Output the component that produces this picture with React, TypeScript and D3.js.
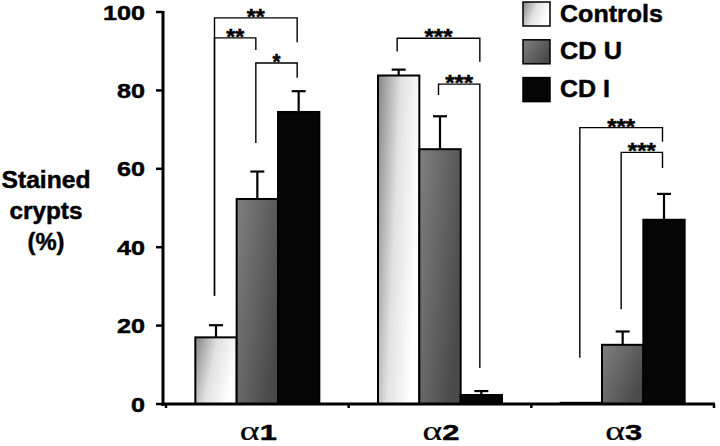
import React from "react";
import * as d3 from "d3";

const categories = ["α1", "α2", "α3"];
const seriesNames = ["Controls", "CD U", "CD I"];
const controlsMean = [17, 83.8, 0.3];
const controlsErr = [3.1, 1.5, 0];
const cdUMean = [52.3, 65, 15.1];
const cdUErr = [7, 8.4, 3.4];
const cdIMean = [74.5, 2.3, 47];
const cdIErr = [5.3, 1.0, 6.6];
const yTicks = [0, 20, 40, 60, 80, 100];
const yTitleLines = ["Stained", "crypts", "(%)"];

// significance brackets: category index, series a, series b, top value, left leg end, right leg end, label
const brackets = [
  { cat: 0, a: 0, b: 2, top: 98.5, leftEnd: 27.6, rightEnd: 92.3, label: "**" },
  { cat: 0, a: 0, b: 1, top: 93.4, leftEnd: 27.6, rightEnd: 90.3, label: "**" },
  { cat: 0, a: 1, b: 2, top: 87, leftEnd: 66.6, rightEnd: 83.2, label: "*" },
  { cat: 1, a: 0, b: 2, top: 93.3, leftEnd: 89.9, rightEnd: 87.3, label: "***" },
  { cat: 1, a: 1, b: 2, top: 81.6, leftEnd: 78.8, rightEnd: 9.2, label: "***" },
  { cat: 2, a: 0, b: 2, top: 70.5, leftEnd: 11.8, rightEnd: 66.9, label: "***" },
  { cat: 2, a: 1, b: 2, top: 64.2, leftEnd: 24.2, rightEnd: 60.2, label: "***" },
];

const W = 720;
const H = 446;
const FONT = "'Liberation Sans', Arial, Helvetica, sans-serif";

function SText(props: any) {
  const { len, children, ...rest } = props;
  return (
    <text
      fontFamily={FONT}
      fontWeight="bold"
      stroke="#000"
      strokeWidth={0.45}
      textLength={len}
      lengthAdjust={len ? "spacingAndGlyphs" : undefined}
      {...rest}
    >
      {children}
    </text>
  );
}

const legendLen: Record<string, number> = { Controls: 103, "CD U": 62, "CD I": 50 };
const starLen: Record<string, number> = { "*": 8, "**": 18, "***": 28 };
const titleLen = [89, 73, 37];

export default function App() {
  const y = d3.scaleLinear().domain([0, 100]).range([404, 12]);
  const x = d3.scaleBand<string>().domain(categories).range([166, 714]).paddingInner(0).paddingOuter(0);
  const bw = x.bandwidth();
  const groupW = 124;
  const xs = d3
    .scaleBand<string>()
    .domain(seriesNames)
    .range([(bw - groupW) / 2, (bw + groupW) / 2])
    .padding(0);
  const barW = xs.bandwidth();

  const means = [controlsMean, cdUMean, cdIMean];
  const errs = [controlsErr, cdUErr, cdIErr];
  const fills = ["url(#gradCtrl)", "url(#gradCDU)", "#050505"];

  const cx = (ci: number, si: number) => (x(categories[ci]) as number) + (xs(seriesNames[si]) as number) + barW / 2;

  return (
    <svg width={W} height={H} style={{ position: "absolute", left: 0, top: 0, background: "#fff" }}>
      <defs>
        <linearGradient id="gradCtrl" x1="0" y1="0" x2="1" y2="0.35">
          <stop offset="0" stopColor="#858585" />
          <stop offset="0.5" stopColor="#e2e2e2" />
          <stop offset="1" stopColor="#ffffff" />
        </linearGradient>
        <linearGradient id="gradCDU" x1="0" y1="0" x2="1" y2="0.6">
          <stop offset="0" stopColor="#808080" />
          <stop offset="1" stopColor="#4a4a4a" />
        </linearGradient>
      </defs>

      {/* bars */}
      {categories.map((c, ci) =>
        seriesNames.map((s, si) => {
          const v = means[si][ci];
          const x0 = (x(c) as number) + (xs(s) as number);
          return (
            <rect
              key={c + s}
              x={x0}
              y={y(v)}
              width={barW}
              height={y(0) - y(v)}
              fill={fills[si]}
              stroke="#000"
              strokeWidth={2}
            />
          );
        })
      )}

      {/* error bars */}
      {categories.map((c, ci) =>
        seriesNames.map((s, si) => {
          const v = means[si][ci];
          const e = errs[si][ci];
          if (e <= 0) return null;
          const xc = cx(ci, si);
          return (
            <g key={"e" + c + s} stroke="#000" strokeWidth={2.2}>
              <line x1={xc} x2={xc} y1={y(v)} y2={y(v + e)} />
              <line x1={xc - 7} x2={xc + 7} y1={y(v + e)} y2={y(v + e)} />
            </g>
          );
        })
      )}

      {/* brackets */}
      {brackets.map((b, i) => {
        const xa = cx(b.cat, b.a) - 1.5;
        const xb = cx(b.cat, b.b) - 1.5;
        const yt = y(b.top);
        return (
          <g key={"b" + i}>
            <path
              d={`M${xa},${y(b.leftEnd)}V${yt}H${xb}V${y(b.rightEnd)}`}
              fill="none"
              stroke="#000"
              strokeWidth={1.4}
            />
            <SText x={(xa + xb) / 2} y={yt + 6} textAnchor="middle" fontSize={22} len={starLen[b.label]}>
              {b.label}
            </SText>
          </g>
        );
      })}

      {/* y axis */}
      <line x1={163} x2={163} y1={y(100) - 1} y2={y(0) + 2} stroke="#000" strokeWidth={3} />
      {yTicks.map((t) => (
        <g key={"t" + t}>
          <line x1={156} x2={163} y1={y(t)} y2={y(t)} stroke="#000" strokeWidth={2.5} />
          <SText x={145} y={y(t) + 7.5} textAnchor="end" fontSize={21} len={String(t).length * 14}>
            {t}
          </SText>
        </g>
      ))}

      {/* x axis */}
      <line x1={161.5} x2={715} y1={y(0)} y2={y(0)} stroke="#000" strokeWidth={3} />
      {[...categories.map((c) => x(c) as number), 714].map((bx, i) => (
        <line key={"xt" + i} x1={bx} x2={bx} y1={y(0)} y2={y(0) + 4} stroke="#000" strokeWidth={2.5} />
      ))}
      {categories.map((c) => (
        <SText key={"xl" + c} x={(x(c) as number) + bw / 2 + 1} y={440} textAnchor="middle" fontSize={22} len={37}>
          <tspan fontFamily="'Liberation Serif', 'DejaVu Serif', serif" fontWeight="normal" strokeWidth={0.2} fontSize={27}>
            {c.charAt(0)}
          </tspan>
          <tspan>{c.slice(1)}</tspan>
        </SText>
      ))}

      {/* y title */}
      {yTitleLines.map((t, i) => (
        <SText key={"yt" + i} x={46} y={188 + i * 31} textAnchor="middle" fontSize={23} len={titleLen[i]}>
          {t}
        </SText>
      ))}

      {/* legend */}
      {seriesNames.map((s, si) => (
        <g key={"lg" + s} transform={`translate(523, ${2 + si * 37.8})`}>
          <rect x={0} y={0} width={27} height={24} fill={fills[si]} stroke="#000" strokeWidth={1.5} />
          <SText x={37} y={19.5} fontSize={23} len={legendLen[s]}>
            {s}
          </SText>
        </g>
      ))}
    </svg>
  );
}
